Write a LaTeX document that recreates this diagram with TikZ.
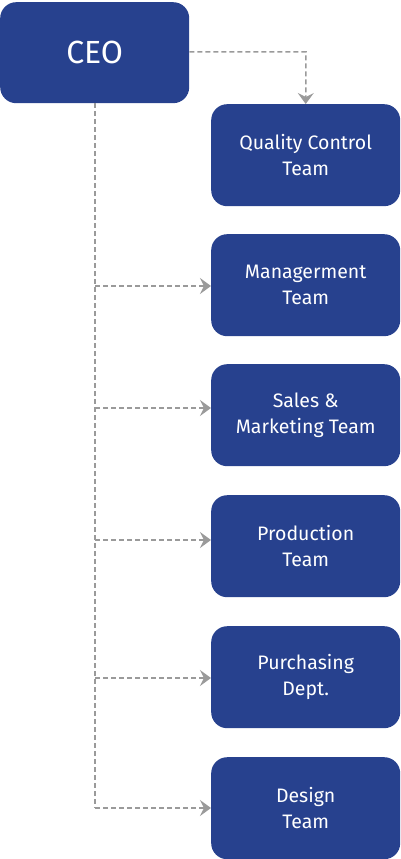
\documentclass[tikz,border=0pt]{standalone}
\usepackage{fontspec}
\setmainfont{Fira Sans}
\usetikzlibrary{arrows.meta}
\definecolor{boxblue}{HTML}{27418E}
\definecolor{linegray}{HTML}{9A9A9A}
\tikzset{
  teambox/.style={fill=boxblue, rounded corners=16pt, minimum width=189pt, minimum height=102pt, inner sep=0pt, text=white, align=center, font=\fontsize{19.5}{26}\selectfont, anchor=north west},
  ceobox/.style={fill=boxblue, rounded corners=16pt, minimum width=189pt, minimum height=101pt, inner sep=0pt, text=white, font=\fontsize{32}{36}\selectfont, anchor=north west},
  link/.style={draw=linegray, line width=1.5pt, dash pattern=on 5pt off 3pt, -{Stealth[length=11pt,width=16pt,inset=4pt,fill=linegray]}},
  trunk/.style={draw=linegray, line width=1.5pt, dash pattern=on 5pt off 3pt}
}
\begin{document}
\begin{tikzpicture}[x=1pt,y=-1pt]
\useasboundingbox (0,0) rectangle (400,859);
\node[ceobox] (ceo) at (0,2) {CEO};
\node[teambox] (qc) at (211,104) {Quality Control\\Team};
\node[teambox] (mg) at (211,234) {Managerment\\Team};
\node[teambox] (sm) at (211,364) {Sales \&\\Marketing Team};
\node[teambox] (pr) at (211,495) {Production\\Team};
\node[teambox] (pu) at (211,626) {Purchasing\\Dept.};
\node[teambox] (de) at (211,757) {Design\\Team};
\coordinate (top) at (95,103);
\coordinate (bot) at (95,808);
\coordinate (bend) at (306,52);
\draw[trunk] (top) -- (bot);
\draw[link] (ceo.east |- bend) -- (bend) -- (qc.north);
\draw[link] (95,286) -- (mg.west |- 0,286);
\draw[link] (95,408) -- (sm.west |- 0,408);
\draw[link] (95,540) -- (pr.west |- 0,540);
\draw[link] (95,678) -- (pu.west |- 0,678);
\draw[link] (bot) -- (de.west |- bot);
\end{tikzpicture}
\end{document}
